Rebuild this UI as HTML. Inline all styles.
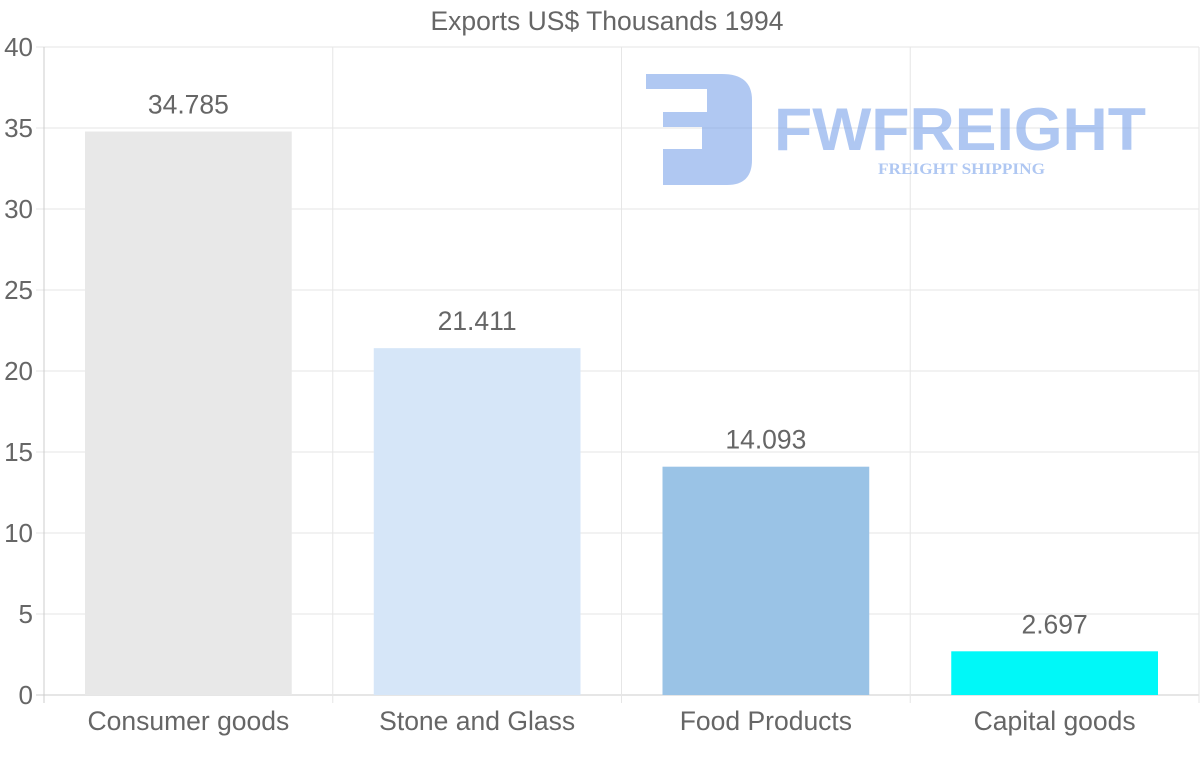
<!DOCTYPE html>
<html><head><meta charset="utf-8"><style>
html,body{margin:0;padding:0;background:#fff;}
svg{display:block;font-family:"Liberation Sans",sans-serif;}
</style></head><body>
<svg id="chart" width="1200" height="763" viewBox="0 0 1200 763" xmlns="http://www.w3.org/2000/svg">
<text x="607" y="30" font-size="26.5" fill="#666" text-anchor="middle">Exports US$ Thousands 1994</text>
<g id="grid"></g>
<g id="logo" opacity="0.55">
<path d="M646 74 H722 Q752 74 752 100 V160 Q752 185 727 185 H663 V149 H702 V127 H663 V112 H707 V89 H646 Z" fill="#6f9be8"/>
<text x="774" y="150" font-size="60" font-weight="bold" fill="#6f9be8" textLength="372" lengthAdjust="spacingAndGlyphs">FWFREIGHT</text>
<text x="878" y="174" font-size="16" font-weight="bold" font-family="Liberation Serif,serif" fill="#6f9be8" textLength="167" lengthAdjust="spacingAndGlyphs">FREIGHT SHIPPING</text>
</g>
<g id="bars"></g>
</svg>
<script>
const categories = ["Consumer goods","Stone and Glass","Food Products","Capital goods"];
const values = [34.785, 21.411, 14.093, 2.697];
const valueLabels = ["34.785","21.411","14.093","2.697"];
const yTicks = [0,5,10,15,20,25,30,35,40];
const colors = ["#e8e8e8","#d6e6f8","#9ac3e6","#00f8f8"];
const NS="http://www.w3.org/2000/svg";
const L=44,R=1199,T=47,B=695,yMax=40;
const y=v=>B-(v/yMax)*(B-T);
const band=(R-L)/categories.length;
const x=i=>L+band*i;
const grid=document.getElementById('grid'), bars=document.getElementById('bars');
function mk(tag,attrs,parent,text){const e=document.createElementNS(NS,tag);for(const k in attrs)e.setAttribute(k,attrs[k]);if(text!==undefined)e.textContent=text;parent.appendChild(e);return e;}
yTicks.forEach(t=>{
  const g=mk('line',{x1:36,x2:R,y1:y(t),y2:y(t),stroke:t===0?'#ccc':'#e6e6e6','stroke-width':1},grid);
  
  
  const lb=mk('text',{x:33,y:y(t)+9,'font-size':26,fill:'#666','text-anchor':'end'},grid,String(t));
  
  
});
for(let i=0;i<=categories.length;i++){
  const g=mk('line',{x1:x(i),x2:x(i),y1:T,y2:B+8,stroke:i===0?'#ccc':'#e6e6e6','stroke-width':1},grid);
  
  
}
categories.forEach((c,i)=>{
  const bw=band*0.716, bx=x(i)+(band-bw)/2;
  const r=mk('rect',{x:bx,y:y(values[i]),width:bw,height:B-y(values[i]),fill:colors[i]},bars);
  
  
  const vl=mk('text',{x:x(i)+band/2,y:y(values[i])-18,'font-size':26.5,fill:'#666','text-anchor':'middle'},bars,valueLabels[i]);
  
  
  const cl=mk('text',{x:x(i)+band/2,y:730,'font-size':26.5,fill:'#666','text-anchor':'middle'},bars,c);
  
  
});
</script>
</body></html>
